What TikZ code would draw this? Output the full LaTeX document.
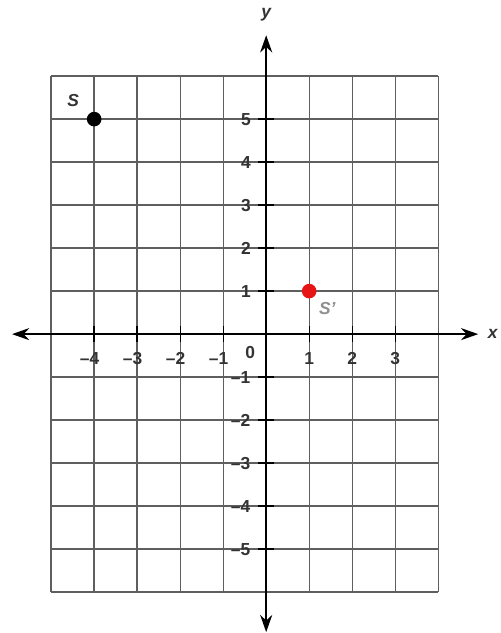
\documentclass[tikz,border=0pt]{standalone}
\usepackage{fontspec}
\setmainfont{Liberation Sans}
\usetikzlibrary{arrows.meta,positioning}
\definecolor{gridGray}{RGB}{95,95,95}
\definecolor{ptRed}{RGB}{230,20,20}

\begin{document}
\begin{tikzpicture}[
	>={Stealth[length=4mm,width=2.8mm]},
	axis/.style={line width=1.3pt, <->},
	gridln/.style={draw=gridGray, line width=0.9pt},
	tick/.style={line width=0.9pt},
	lbl/.style={font=\bfseries\fontsize{11.5}{13}\selectfont, text=black!80, inner sep=1pt},
	dot/.style={circle, fill=black, inner sep=0pt, minimum size=3.4mm}
	]
	\useasboundingbox (-6.19,-6.95) rectangle (5.44,7.77);

	% grid
	\draw[gridln] (-5,-6) grid (4,6);

	% axes
	\coordinate (xl) at (-5.91,0);
	\coordinate (xr) at (4.93,0);
	\coordinate (yb) at (0,-6.93);
	\coordinate (yt) at (0,6.95);
	\draw[axis] (xl) -- (xr);
	\draw[axis] (yb) -- (yt);
	\node[lbl,font=\bfseries\itshape\fontsize{11.5}{13}\selectfont] (xlab) at (5.27,0) {x};
	\node[lbl,font=\bfseries\itshape\fontsize{11.5}{13}\selectfont] (ylab) at (0,7.42) {y};

	% ticks and numbers
	\foreach \i in {-4,-3,-2,-1,1,2,3}
	\draw[tick] (\i,-0.18) -- (\i,0.18);
	\foreach \i in {-5,...,-1,1,2,...,5}
	\draw[tick] (-0.18,\i) -- (0.18,\i);
	\foreach \i in {4,3,2,1}
	\node[lbl,anchor=east] (xn\i) at (-\i+0.16,-0.56) {–\i};
	\foreach \i in {1,2,3}
	\node[lbl] (xp\i) at (\i,-0.56) {\i};
	\foreach \i in {1,...,5}
	\node[lbl] (yp\i) at (-0.47,\i) {\i};
	\foreach \i in {1,...,5}
	\node[lbl,anchor=east] (yn\i) at (-0.33,-\i) {–\i};
	\node[lbl] (zero) at (-0.37,-0.42) {0};

	% points
	\node[dot] (S) at (-4,5) {};
	\node[lbl,font=\bfseries\itshape\fontsize{11.5}{13}\selectfont] (Slab) at (-4.49,5.44) {S};
	\node[dot,fill=ptRed] (Sp) at (1,1) {};
	\node[lbl,font=\bfseries\itshape\fontsize{11.5}{13}\selectfont,text=gridGray!70] (Splab) at (1.42,0.6) {S'};
\end{tikzpicture}
\end{document}
